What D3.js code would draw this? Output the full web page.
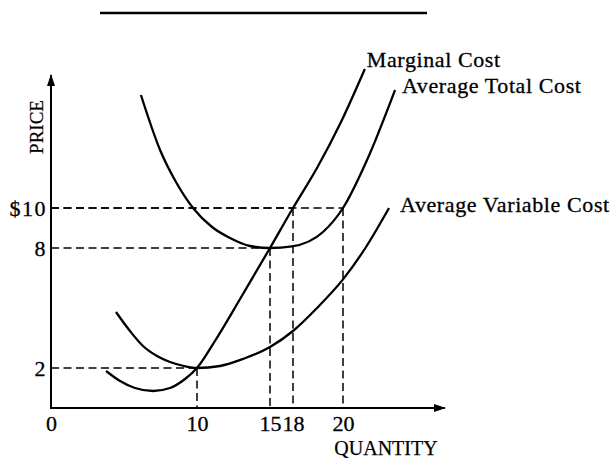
<!DOCTYPE html>
<html>
<head>
<meta charset="utf-8">
<script src="https://cdn.jsdelivr.net/npm/d3@7"></script>
<style>
  body { margin: 0; background: #fff; }
  svg { display: block; }
  text { font-family: "Liberation Serif", "Times New Roman", serif; fill: #000; }
</style>
</head>
<body>
<div id="chart"></div>
<script>
// tick values
var quantityTicks = [0, 10, 15, 18, 20];
var quantityLabels = ["0", "10", "15", "18", "20"];
var priceTicks = [2, 8, 10];
var priceLabels = ["2", "8", "$10"];

// marginal cost curve
var mcQuantity = [3.77, 4.73, 5.75, 6.99, 8.15, 9.18, 10, 11.23, 12.95, 15, 18, 18.96, 19.92, 21.5];
var mcPrice    = [1.85, 1.35, 1.0, 0.85, 1.0, 1.45, 2, 3.35, 5.45, 8, 10, 12.0, 14.3, 16.95];

// average total cost curve
var atcQuantity = [6.16, 7.47, 8.56, 9.73, 11.03, 12.26, 13.63, 15, 17.87, 19.2, 20, 21.65, 23.57];
var atcPrice    = [15.65, 12.9, 11.3, 10, 9.05, 8.5, 8.1, 8, 8.08, 8.8, 10, 12.4, 15.9];

// average variable cost curve
var avcQuantity = [4.45, 5.41, 6.3, 7.26, 8.15, 9.11, 10, 11.58, 13.15, 15, 18, 18.96, 20, 21.58, 23.16];
var avcPrice    = [4.8, 3.85, 3.1, 2.6, 2.3, 2.1, 2, 2.1, 2.45, 3.05, 3.85, 5.0, 6.43, 8.05, 10.0];

var curveNames = ["Marginal Cost", "Average Total Cost", "Average Variable Cost"];

// dashed guide points (quantity, price)
var guideQuantity = [10, 15, 18, 20];
var guidePrice    = [2, 8, 10, 10];

var svgWidth = 616;
var svgHeight = 458;
var margin = { top: 75, left: 51, bottom: 50 };

var svg = d3.select("#chart")
    .append("svg")
    .attr("width", svgWidth)
    .attr("height", svgHeight);

// the drawing is not to scale: 18 sits close to 15, so the quantity scale is piecewise
var xStops = [0, 146, 219, 242, 292, 394];
var x = d3.scaleLinear()
    .domain([0, 10, 15, 18, 20, 27])
    .range(xStops.map(function(d) { return margin.left + d; }));

var y = d3.scaleLinear()
    .domain([0, 16.65])
    .range([svgHeight - margin.bottom, margin.top]);

// rule at the top of the figure
svg.append("line")
    .attr("x1", 100).attr("x2", 427)
    .attr("y1", 13).attr("y2", 13)
    .attr("stroke", "#000")
    .attr("stroke-width", 2.4);

// arrow head
svg.append("defs").append("marker")
    .attr("id", "arrow")
    .attr("viewBox", "0 0 12 8")
    .attr("refX", 11).attr("refY", 4)
    .attr("markerWidth", 12).attr("markerHeight", 8)
    .attr("markerUnits", "userSpaceOnUse")
    .attr("orient", "auto")
    .append("path")
    .attr("d", "M0,0L12,4L0,8z")
    .attr("fill", "#000");

// dashed guides
var guides = svg.append("g")
    .attr("fill", "none")
    .attr("stroke", "#000")
    .attr("stroke-width", 1.5)
    .attr("stroke-dasharray", "8,4.5");

guideQuantity.forEach(function(q, i) {
    var p = guidePrice[i];
    guides.append("line")
        .attr("x1", x(0)).attr("x2", x(q))
        .attr("y1", y(p)).attr("y2", y(p));
    guides.append("line")
        .attr("x1", x(q)).attr("x2", x(q))
        .attr("y1", y(p)).attr("y2", y(0));
});

// axes
var xAxis = d3.axisBottom(x)
    .tickValues(quantityTicks)
    .tickFormat(function(d, i) { return quantityLabels[i]; })
    .tickSize(0)
    .tickPadding(7);

var yAxis = d3.axisLeft(y)
    .tickValues(priceTicks)
    .tickFormat(function(d, i) { return priceLabels[i]; })
    .tickSize(0)
    .tickPadding(4);

var gx = svg.append("g")
    .attr("transform", "translate(0," + y(0) + ")")
    .call(xAxis);
gx.select(".domain").remove();
gx.selectAll("text")
    .style("font-family", "'Liberation Serif', 'Times New Roman', serif")
    .style("font-size", "22px")
    .style("stroke", "#000")
    .style("stroke-width", "0.3px");

var gy = svg.append("g")
    .attr("transform", "translate(" + x(0) + ",0)")
    .call(yAxis);
gy.select(".domain").remove();
gy.selectAll("text")
    .style("font-family", "'Liberation Serif', 'Times New Roman', serif")
    .style("font-size", "22px")
    .style("letter-spacing", "1.5px")
    .style("stroke", "#000")
    .style("stroke-width", "0.3px");

svg.append("line")
    .attr("x1", x(0)).attr("x2", x(0))
    .attr("y1", y(0) + 1).attr("y2", y(16.65))
    .attr("stroke", "#000")
    .attr("stroke-width", 2)
    .attr("marker-end", "url(#arrow)");

svg.append("line")
    .attr("x1", x(0) - 1).attr("x2", x(27))
    .attr("y1", y(0)).attr("y2", y(0))
    .attr("stroke", "#000")
    .attr("stroke-width", 2)
    .attr("marker-end", "url(#arrow)");

// axis titles
svg.append("text")
    .attr("transform", "translate(43," + 127 + ") rotate(-90)")
    .attr("text-anchor", "middle")
    .style("font-size", "19px")
    .style("stroke", "#000")
    .style("stroke-width", "0.25px")
    .text("PRICE");

svg.append("text")
    .attr("x", 386)
    .attr("y", 455)
    .attr("text-anchor", "middle")
    .style("font-size", "20px")
    .style("stroke", "#000")
    .style("stroke-width", "0.25px")
    .text("QUANTITY");

// cost curves
var line = d3.line()
    .x(function(d) { return x(d[0]); })
    .y(function(d) { return y(d[1]); })
    .curve(d3.curveMonotoneX);

var curves = [
    d3.zip(mcQuantity, mcPrice),
    d3.zip(atcQuantity, atcPrice),
    d3.zip(avcQuantity, avcPrice)
];
var labelOffsets = [[2, -2], [7, 3], [11, 4]];

curves.forEach(function(pts, i) {
    svg.append("path")
        .datum(pts)
        .attr("d", line)
        .attr("fill", "none")
        .attr("stroke", "#000")
        .attr("stroke-width", 2.3);

    var last = pts[pts.length - 1];
    svg.append("text")
        .attr("x", x(last[0]) + labelOffsets[i][0])
        .attr("y", y(last[1]) + labelOffsets[i][1])
        .style("font-size", "22px")
        .style("letter-spacing", "0.6px")
        .style("stroke", "#000")
        .style("stroke-width", "0.3px")
        .text(curveNames[i]);
});
</script>
</body>
</html>
